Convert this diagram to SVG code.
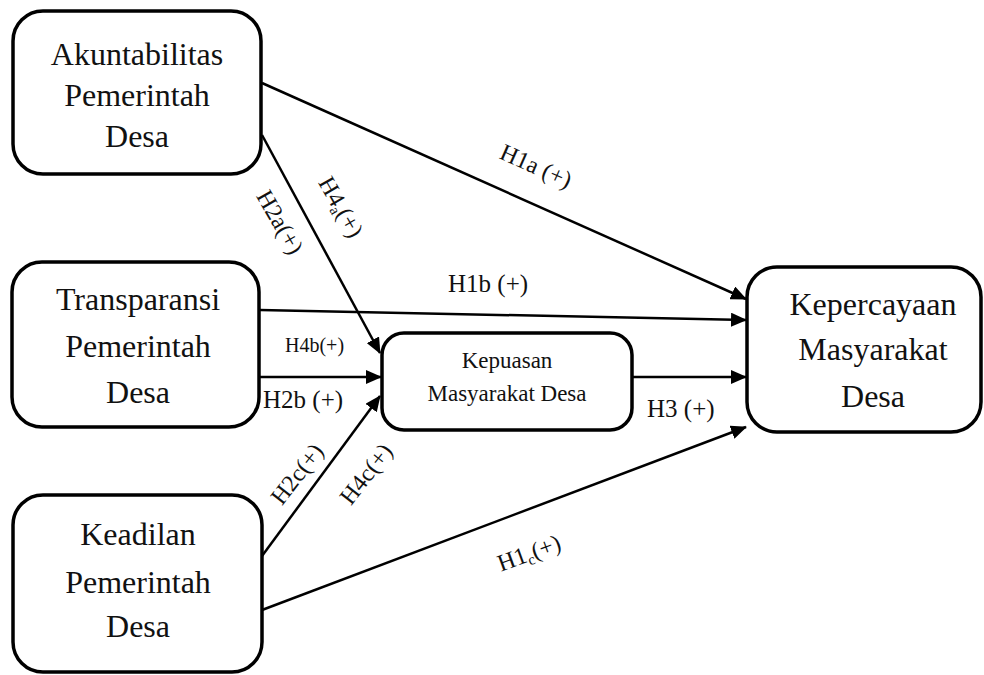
<svg xmlns="http://www.w3.org/2000/svg" width="984" height="675" viewBox="0 0 984 675">
<style>
.box{fill:#fff;stroke:#000;stroke-width:3.5}
text{font-family:'Liberation Serif','Times New Roman','DejaVu Serif',serif;fill:#111}
.nt{font-size:32px;text-anchor:middle}
.st{font-size:23px;text-anchor:middle}
.lb{font-size:24px}
.cn{fill:none;stroke:#000;stroke-width:2.5}
</style>
<defs>
<marker id="ah" markerUnits="userSpaceOnUse" markerWidth="16" markerHeight="14" refX="15" refY="7" orient="auto">
<path d="M0,0 L16,7 L0,14 z" fill="#000"/>
</marker>
</defs>
<rect width="984" height="675" fill="#fff"/>
<g id="connectors">
<line class="cn" x1="262" y1="83" x2="746" y2="299" marker-end="url(#ah)"/>
<line class="cn" x1="260" y1="310" x2="746" y2="320" marker-end="url(#ah)"/>
<line class="cn" x1="262" y1="135" x2="380" y2="353" marker-end="url(#ah)"/>
<line class="cn" x1="260" y1="377" x2="381" y2="377" marker-end="url(#ah)"/>
<line class="cn" x1="262" y1="556" x2="380" y2="396" marker-end="url(#ah)"/>
<line class="cn" x1="630" y1="377" x2="746" y2="377" marker-end="url(#ah)"/>
<line class="cn" x1="262" y1="610" x2="746" y2="427" marker-end="url(#ah)"/>
</g>
<g id="labels">
<text class="lb" font-family="Liberation Serif, DejaVu Serif, serif" text-anchor="middle" transform="translate(536,166) rotate(24)" y="8">H1a (+)</text>
<text class="lb" x="448" y="292" style="font-size:25px">H1b (+)</text>
<text class="lb" x="285" y="352" style="font-size:20px">H4b(+)</text>
<text class="lb" x="263" y="408" style="font-size:25px">H2b (+)</text>
<text class="lb" x="647" y="417" style="font-size:25px">H3 (+)</text>
<text class="lb" text-anchor="middle" transform="translate(280,222) rotate(60)" y="8">H2a(+)</text>
<text class="lb" text-anchor="middle" transform="translate(341,207) rotate(60)" y="8">H4<tspan style="font-size:15px" dy="4">a</tspan><tspan dy="-4">(+)</tspan></text>
<text class="lb" text-anchor="middle" transform="translate(297,474) rotate(-52)" y="8">H2c(+)</text>
<text class="lb" text-anchor="middle" transform="translate(366,474) rotate(-52)" y="8">H4c(+)</text>
<text class="lb" text-anchor="middle" transform="translate(529,553) rotate(-20)" y="8">H1<tspan style="font-size:15px" dy="4">c</tspan><tspan dy="-4">(+)</tspan></text>
</g>
<g id="akuntabilitas">
<rect class="box" x="13" y="11" width="248" height="163" rx="30"/>
<text class="nt" x="137" y="65">Akuntabilitas</text>
<text class="nt" x="137" y="106">Pemerintah</text>
<text class="nt" x="137" y="147">Desa</text>
</g>
<g id="transparansi">
<rect class="box" x="12" y="262" width="247" height="165" rx="30"/>
<text class="nt" x="138" y="310">Transparansi</text>
<text class="nt" x="138" y="357">Pemerintah</text>
<text class="nt" x="138" y="403">Desa</text>
</g>
<g id="keadilan">
<rect class="box" x="13" y="495" width="249" height="177" rx="30"/>
<text class="nt" x="138" y="545">Keadilan</text>
<text class="nt" x="138" y="593">Pemerintah</text>
<text class="nt" x="138" y="637">Desa</text>
</g>
<g id="kepuasan">
<rect class="box" x="382" y="333" width="250" height="97" rx="22"/>
<text class="st" x="507" y="368">Kepuasan</text>
<text class="st" x="507" y="401">Masyarakat Desa</text>
</g>
<g id="kepercayaan">
<rect class="box" x="747" y="267" width="234" height="165" rx="30"/>
<text class="nt" x="873" y="315">Kepercayaan</text>
<text class="nt" x="873" y="360">Masyarakat</text>
<text class="nt" x="873" y="407">Desa</text>
</g>
</svg>
